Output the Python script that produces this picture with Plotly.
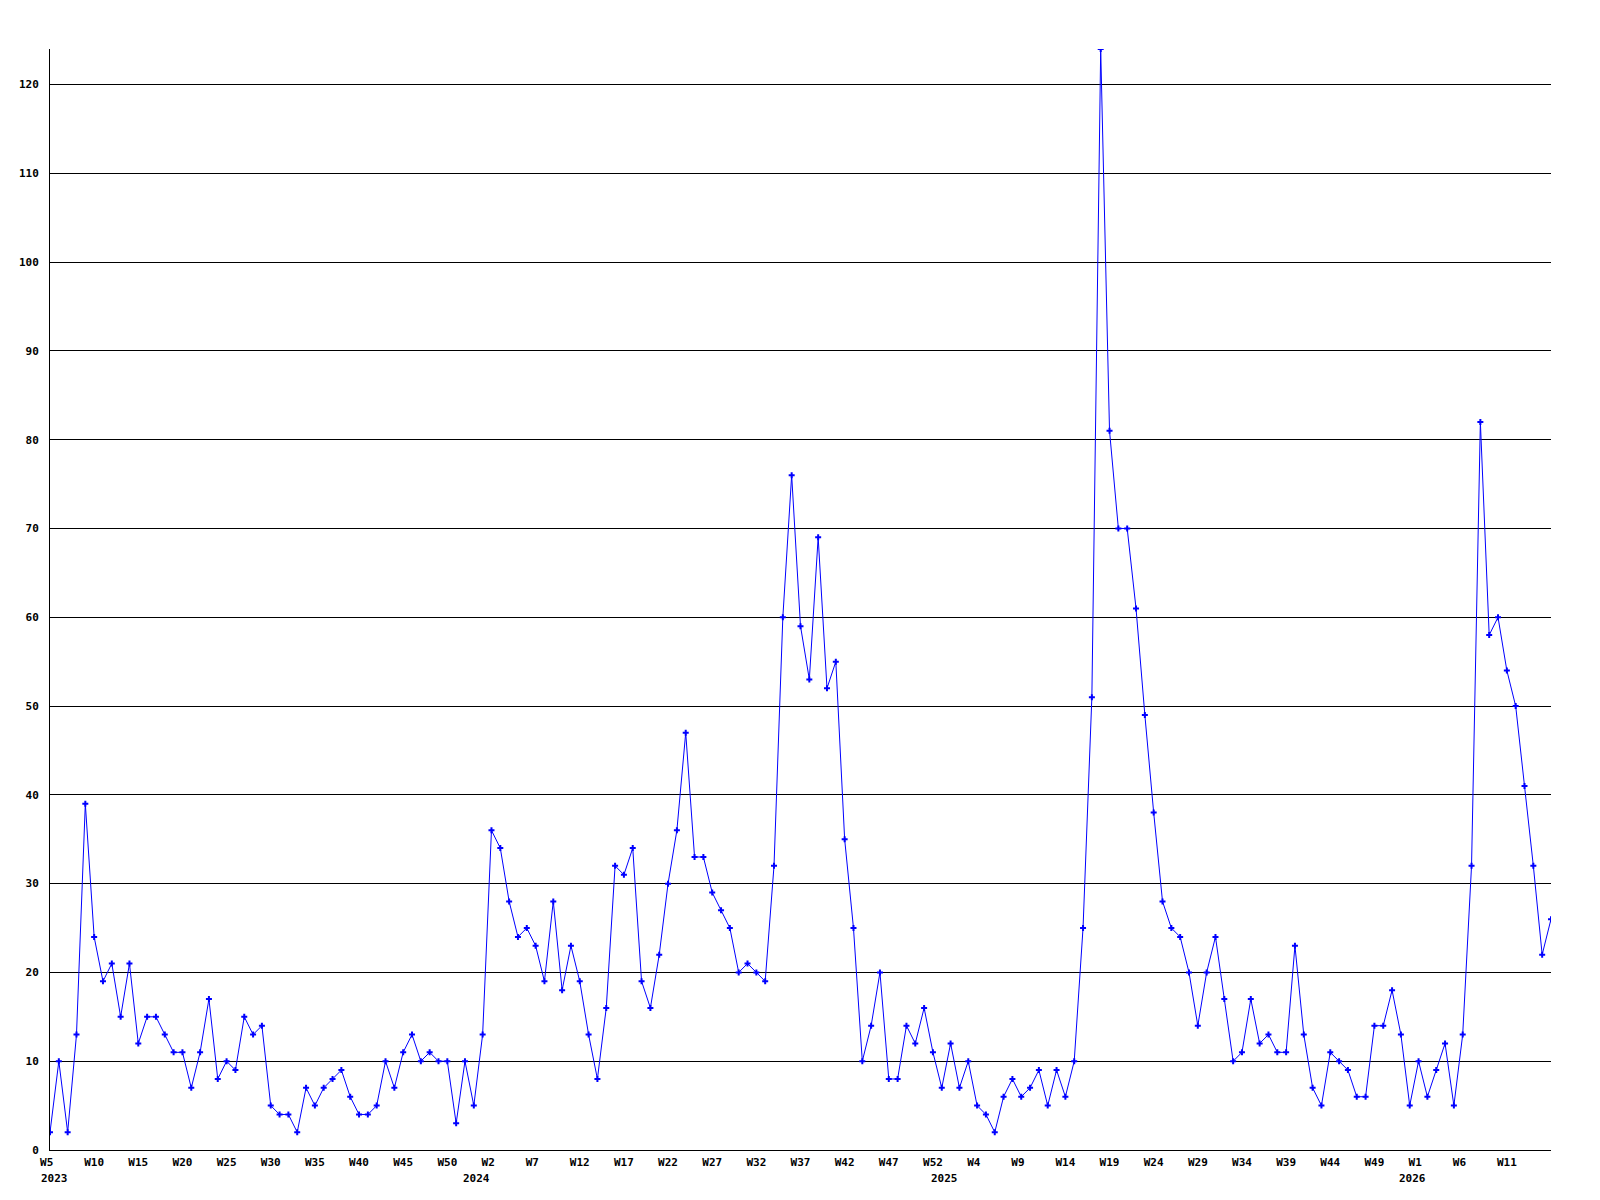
import plotly.graph_objects as go

# ---- data (weekly counts; each year has 53 week slots on this chart) ----
start_week_2023 = 5
values_2023 = [2, 10, 2, 13, 39, 24, 19, 21, 15, 21, 12, 15, 15, 13, 11, 11, 7, 11, 17, 8,
               10, 9, 15, 13, 14, 5, 4, 4, 2, 7, 5, 7, 8, 9, 6, 4, 4, 5, 10, 7,
               11, 13, 10, 11, 10, 10, 3, 10, 5]
values_2024 = [13, 36, 34, 28, 24, 25, 23, 19, 28, 18, 23, 19, 13, 8, 16, 32, 31, 34, 19, 16,
               22, 30, 36, 47, 33, 33, 29, 27, 25, 20, 21, 20, 19, 32, 60, 76, 59, 53, 69, 52,
               55, 35, 25, 10, 14, 20, 8, 8, 14, 12, 16, 11, 7]
values_2025 = [12, 7, 10, 5, 4, 2, 6, 8, 6, 7, 9, 5, 9, 6, 10, 25, 51, 124, 81, 70,
               70, 61, 49, 38, 28, 25, 24, 20, 14, 20, 24, 17, 10, 11, 17, 12, 13, 11, 11, 23,
               13, 7, 5, 11, 10, 9, 6, 6, 14, 14, 18, 13, 5]
values_2026 = [10, 6, 9, 12, 5, 13, 32, 82, 58, 60, 54, 50, 41, 32, 22, 26]

series_by_year = [(2023, start_week_2023, values_2023),
                  (2024, 1, values_2024),
                  (2025, 1, values_2025),
                  (2026, 1, values_2026)]

y_ticks = list(range(0, 121, 10))
tick_step = 5

# ---- build categories ----
categories, values, weeks = [], [], []
for year, w0, vals in series_by_year:
    for i, v in enumerate(vals):
        wk = w0 + i
        categories.append(f"{year}-W{wk:02d}")
        values.append(v)
        weeks.append(wk)

NB = "\u00a0"
tick_idx = list(range(0, len(categories) - 1, tick_step))
tickvals = [categories[i] for i in tick_idx]
ticktext = []
for i in tick_idx:
    lab = f"W{weeks[i]}"
    if len(lab) == 2:
        lab = lab + NB
    ticktext.append(lab)

FONT = dict(family="DejaVu Sans Mono", size=11, color="black", weight="bold")

fig = go.Figure()
fig.add_trace(go.Scatter(
    x=categories, y=values, mode="lines+markers",
    line=dict(color="#0000FF", width=1),
    marker=dict(symbol="cross", size=5, color="#0000FF", line=dict(width=0)),
    cliponaxis=True, showlegend=False,
))

# year labels under the first week of each year
annotations = []
for year, w0, vals in series_by_year:
    cat = f"{year}-W{w0:02d}"
    if year == 2023:
        annotations.append(dict(x=cat, y=0, xref="x", yref="paper", text=str(year),
                                showarrow=False, xanchor="left", yanchor="top",
                                xshift=-11, yshift=-20, font=FONT))
    else:
        annotations.append(dict(x=cat, y=0, xref="x", yref="paper", text=str(year),
                                showarrow=False, xanchor="center", yanchor="top",
                                xshift=-6, yshift=-20, font=FONT))

fig.update_layout(
    width=1600, height=1200,
    margin=dict(l=42, r=57, t=41, b=58),
    paper_bgcolor="white", plot_bgcolor="white",
    showlegend=False,
    annotations=annotations,
    xaxis=dict(
        type="category", categoryorder="array", categoryarray=categories,
        range=[0, len(categories) - 1],
        tickmode="array", tickvals=tickvals, ticktext=ticktext,
        showgrid=False, zeroline=False, showline=True, linecolor="black", linewidth=1,
        ticks="", tickfont=FONT, ticklabelstandoff=2, tickangle=0, automargin=False,
    ),
    yaxis=dict(
        range=[0, 124],
        tickmode="array", tickvals=y_ticks, ticktext=[str(t) for t in y_ticks],
        showgrid=True, gridcolor="black", gridwidth=1,
        zeroline=False, showline=True, linecolor="black", linewidth=1,
        ticks="", tickfont=FONT, ticklabelstandoff=8, automargin=False,
    ),
)

fig.write_html("out.html")
